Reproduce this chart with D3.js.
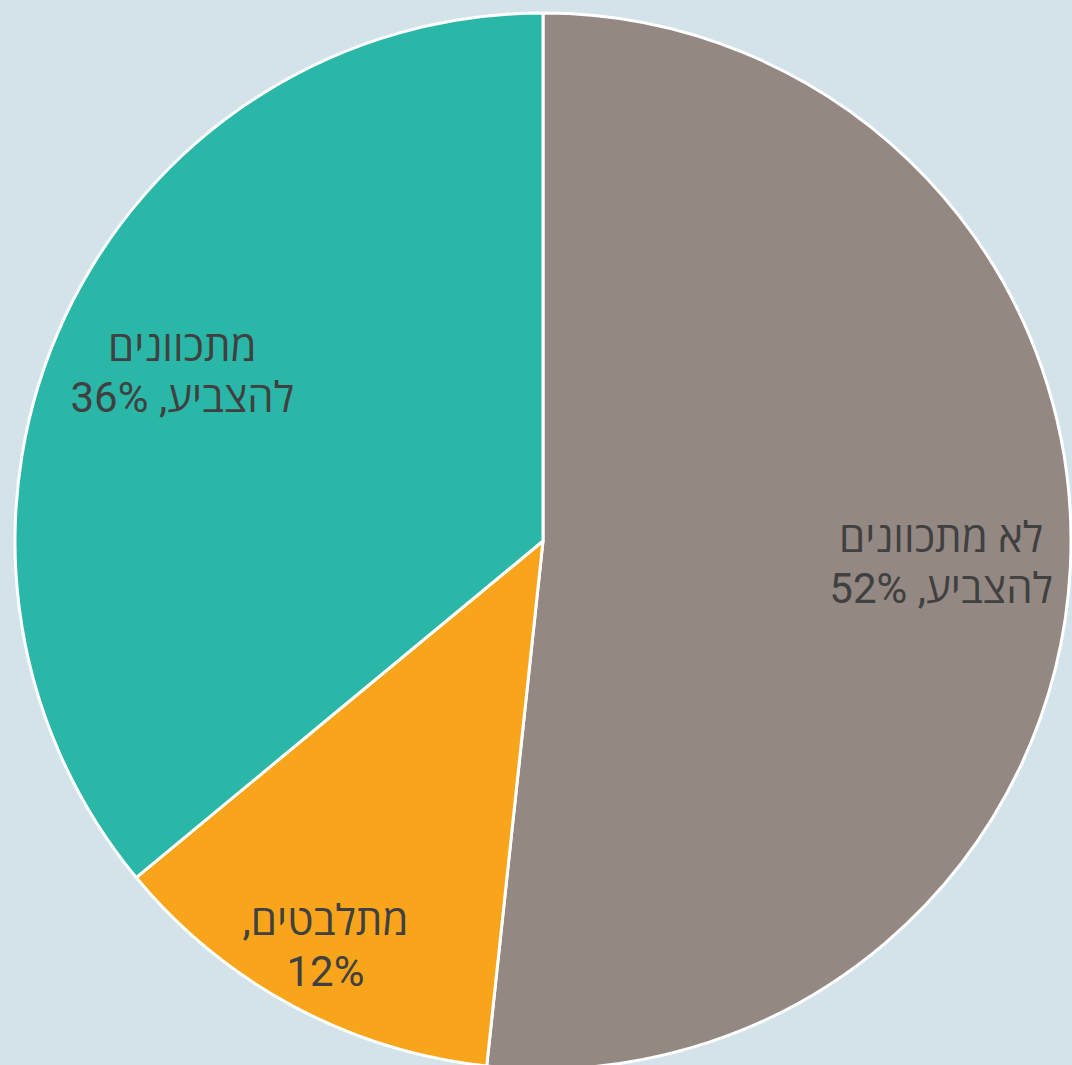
<!DOCTYPE html>
<html><head><meta charset="utf-8">
<script src="https://cdn.jsdelivr.net/npm/d3@7"></script>
<style>html,body{margin:0;padding:0;background:#d4e3ea;overflow:hidden}</style>
</head><body>
<svg id="chart" width="1072" height="1065"></svg>
<script>
const categories = ["לא מתכוונים להצביע", "מתלבטים", "מתכוונים להצביע"];
const values = [51.7, 12.3, 36.0];
const labelLines = [["לא מתכוונים", "להצביע, 52%"], ["מתלבטים,", "12%"], ["מתכוונים", "להצביע, 36%"]];
const colors = ["#948883", "#f8a51c", "#2ab7a7"];

const W = 1072, H = 1065, cx = 543, cy = 541, R = 528;
const svg = d3.select("#chart");
svg.append("rect").attr("width", W).attr("height", H).attr("fill", "#d4e3ea");
const g = svg.append("g").attr("transform", `translate(${cx},${cy})`);
const data = categories.map((c, i) => ({c, v: values[i], lines: labelLines[i], col: colors[i]}));
const pie = d3.pie().value(d => d.v).sort(null);
const arc = d3.arc().innerRadius(0).outerRadius(R);
const arcs = pie(data);
g.selectAll("path").data(arcs).join("path")
  .attr("d", arc).attr("fill", d => d.data.col)
  .attr("stroke", "#ffffff").attr("stroke-width", 3).attr("stroke-linejoin", "round");
const labelArc = d => {
  const frac = (d.endAngle - d.startAngle) / (2 * Math.PI);
  const r = frac < 0.2 ? R * 0.87 : R * 0.755;
  return d3.arc().innerRadius(r).outerRadius(r).centroid(d);
};
const lh = 51;
arcs.forEach(d => {
  const [x, y] = labelArc(d);
  const t = g.append("text").attr("text-anchor", "middle").attr("direction", "rtl")
    .attr("font-family", "Roboto, 'Open Sans', sans-serif").attr("font-size", 42)
    .attr("fill", "#404040");
  d.data.lines.forEach((ln, i) => {
    t.append("tspan").attr("x", x).attr("y", y + 15 + (i - (d.data.lines.length - 1) / 2) * lh).text(ln);
  });
});
</script>
</body></html>
